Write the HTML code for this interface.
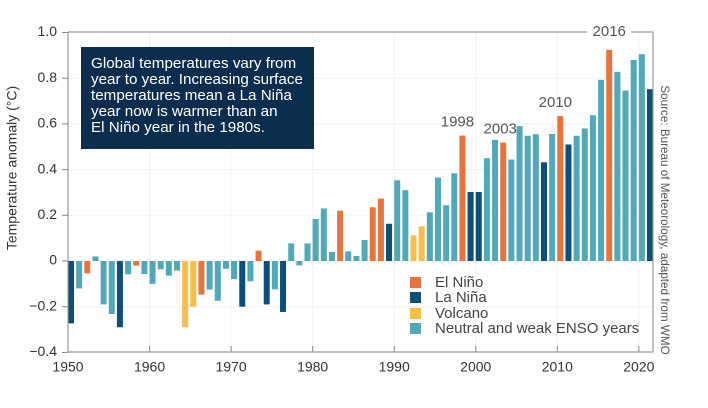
<!DOCTYPE html>
<html><head><meta charset="utf-8"><style>
body{margin:0;background:#fff;}
svg{display:block;font-family:"Liberation Sans",sans-serif;}
</style></head><body>
<svg id="chart" width="708" height="408" viewBox="0 0 708 408">
<g id="grid"></g>
<g id="bars"></g>
<g id="axes"></g>
<text x="13" y="168" transform="rotate(-90 13 168)" text-anchor="middle" dominant-baseline="middle" font-size="14" fill="#333">Temperature anomaly (°C)</text>
<text x="664" y="220" transform="rotate(90 664 220)" text-anchor="middle" dominant-baseline="middle" font-size="11.7" fill="#555">Source: Bureau of Meteorology, adapted from WMO</text>
<g>
<rect x="81" y="47" width="233" height="102" fill="#0c2e4e"/>
<text fill="#fff" font-size="15.2">
<tspan x="91" y="68">Global temperatures vary from</tspan>
<tspan x="91" y="84">year to year. Increasing surface</tspan>
<tspan x="91" y="100">temperatures mean a La Niña</tspan>
<tspan x="91" y="116">year now is warmer than an</tspan>
<tspan x="91" y="132">El Niño year in the 1980s.</tspan>
</text></g>
<g id="annots"></g>
<g font-size="15" fill="#444">
<rect x="410" y="277" width="11" height="11" fill="#e8743b"/>
<text x="435" y="287">El Niño</text>
<rect x="410" y="292" width="11" height="11" fill="#0e4f7a"/>
<text x="435" y="302">La Niña</text>
<rect x="410" y="308" width="11" height="11" fill="#f9be48"/>
<text x="435" y="318">Volcano</text>
<rect x="410" y="323" width="11" height="11" fill="#4fa9b8"/>
<text x="435" y="333">Neutral and weak ENSO years</text>
</g>
</svg>
<script>
const years=[1950,1951,1952,1953,1954,1955,1956,1957,1958,1959,1960,1961,1962,1963,1964,1965,1966,1967,1968,1969,1970,1971,1972,1973,1974,1975,1976,1977,1978,1979,1980,1981,1982,1983,1984,1985,1986,1987,1988,1989,1990,1991,1992,1993,1994,1995,1996,1997,1998,1999,2000,2001,2002,2003,2004,2005,2006,2007,2008,2009,2010,2011,2012,2013,2014,2015,2016,2017,2018,2019,2020,2021];
const anomalies=[-0.273,-0.12,-0.054,0.02,-0.19,-0.232,-0.29,-0.058,-0.02,-0.057,-0.10,-0.036,-0.064,-0.042,-0.29,-0.20,-0.147,-0.125,-0.174,-0.034,-0.079,-0.20,-0.089,0.045,-0.19,-0.124,-0.223,0.077,-0.019,0.077,0.184,0.23,0.04,0.22,0.042,0.022,0.092,0.235,0.273,0.163,0.353,0.31,0.112,0.152,0.213,0.365,0.244,0.384,0.549,0.302,0.302,0.45,0.53,0.518,0.444,0.59,0.548,0.555,0.432,0.556,0.634,0.51,0.548,0.58,0.638,0.793,0.924,0.828,0.746,0.88,0.905,0.752];
const types="LNENNNLNENNNNNVVENNNNLNELNLNNNNNNENNNEELNNVVNNNNELLNNENNNNLNELNNNNENNNNL".split("");
const yTicks=[1.0,0.8,0.6,0.4,0.2,0,-0.2,-0.4];
const yTickLabels=["1.0","0.8","0.6","0.4","0.2","0","\u22120.2","\u22120.4"];
const xTicks=[1950,1960,1970,1980,1990,2000,2010,2020];
const annotYears=[1998,2003,2010,2016];
const colors={E:"#e8743b",L:"#0e4f7a",V:"#f9be48",N:"#4fa9b8"};
const NS="http://www.w3.org/2000/svg";
const X0=68,X1=653,Y0=261,PX=8.155,PY=228.5;
const xs=y=>X0+(y-1950)*PX;
const ys=v=>Y0-v*PY;
function mk(tag,attrs,parent,text){const e=document.createElementNS(NS,tag);for(const k in attrs)e.setAttribute(k,attrs[k]);if(text!==undefined)e.textContent=text;parent.appendChild(e);return e;}
const grid=document.getElementById('grid'),bars=document.getElementById('bars'),axes=document.getElementById('axes'),ann=document.getElementById('annots');
yTicks.forEach((t,i)=>{
  if(t<1&&t>-0.4){const g=mk('line',{x1:X0,x2:X1,y1:ys(t),y2:ys(t),stroke:'#f2f2f2','stroke-width':1},grid);
  
  }
  const tk=mk('line',{x1:X0-6,x2:X0,y1:ys(t),y2:ys(t),stroke:'#888'},axes);
  
  
  const l=mk('text',{x:57,y:ys(t),'text-anchor':'end','dominant-baseline':'middle','font-size':14,fill:'#333'},axes,yTickLabels[i]);
  
  
});
xTicks.forEach(t=>{
  const x=xs(t);
  const g=mk('line',{x1:x,x2:x,y1:32,y2:352,stroke:'#f2f2f2'},grid);
  
  
  const tk=mk('line',{x1:x,x2:x,y1:346,y2:352,stroke:'#888'},axes);
  
  
  const l=mk('text',{x:x,y:368,'text-anchor':'middle','dominant-baseline':'middle','font-size':14,fill:'#333'},axes,String(t));
  
  
});
years.forEach((yr,i)=>{
  const v=anomalies[i],x=xs(yr);
  const r=mk('rect',{x:x,y:Math.min(ys(v),Y0),width:6,height:Math.abs(ys(v)-Y0),fill:colors[types[i]]},bars);
  
  
});
const frame=mk('path',{d:`M${X0} 32 V352 H${X1} V32 H${X0}`,fill:'none',stroke:'#999','stroke-width':1.2},axes);


const annOff={1998:[-5],2003:[-3],2010:[-5],2016:[0]};
annotYears.forEach(yr=>{
  const i=years.indexOf(yr);const cx=xs(yr)+3;
  let ty;
  if(yr===2016){ty=32;mk('rect',{x:cx-22,y:24,width:44,height:16,fill:'#fff'},ann);}
  else ty=ys(anomalies[i])-13;
  const t=mk('text',{x:cx+annOff[yr][0],y:ty,'text-anchor':'middle','dominant-baseline':'middle','font-size':15,fill:'#555'},ann,String(yr));
  
  
});
</script>
</body></html>
